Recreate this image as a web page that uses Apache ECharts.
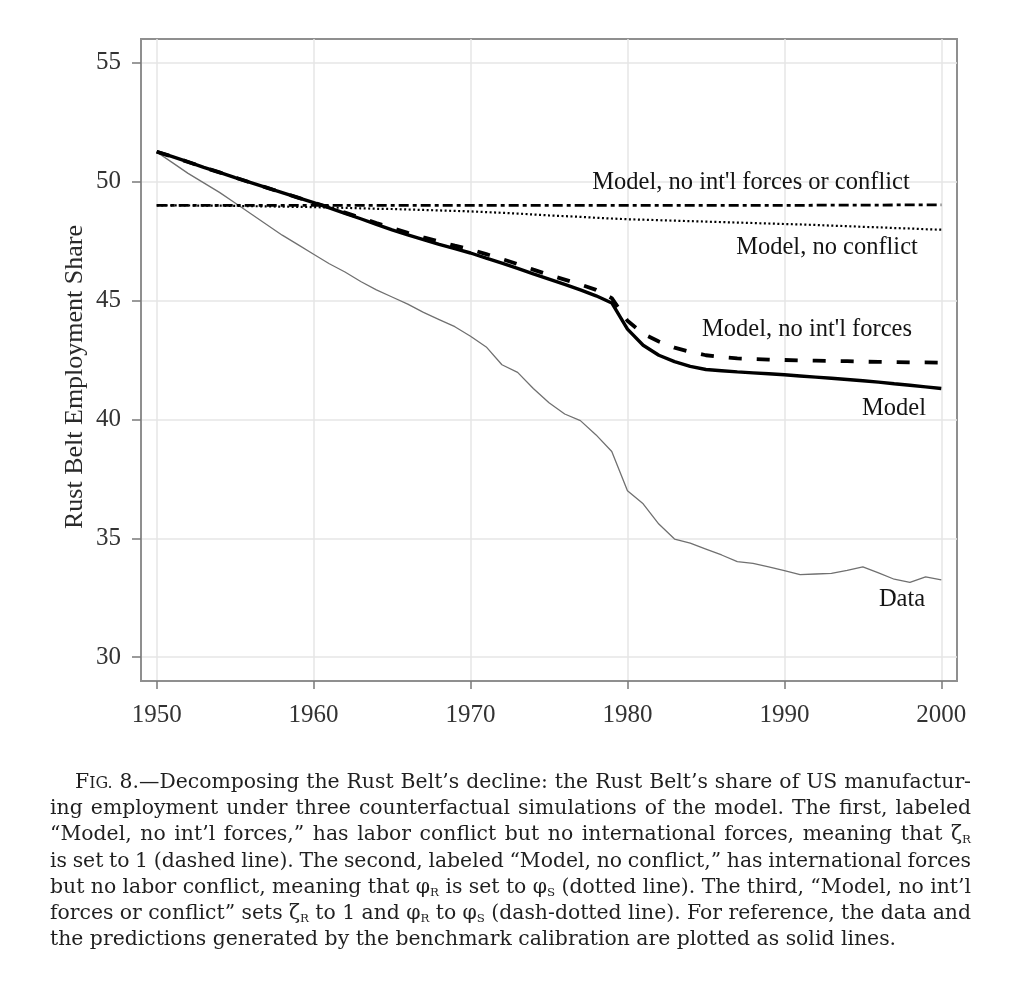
<!DOCTYPE html>
<html><head><meta charset="utf-8">
<script src="https://cdn.jsdelivr.net/npm/echarts@6/dist/echarts.min.js"></script>
<style>html,body{margin:0;padding:0;background:#fff}#c{width:1019px;height:981px}</style>
</head><body><div id="c"></div>
<script>
// ---------- DATA ----------
const years = [1950,1951,1952,1953,1954,1955,1956,1957,1958,1959,
  1960,1961,1962,1963,1964,1965,1966,1967,1968,1969,
  1970,1971,1972,1973,1974,1975,1976,1977,1978,1979,
  1980,1981,1982,1983,1984,1985,1986,1987,1988,1989,
  1990,1991,1992,1993,1994,1995,1996,1997,1998,1999,2000];

const dataShare = [51.25,50.8,50.35,49.95,49.55,49.1,48.65,48.2,47.75,47.35,
  46.95,46.55,46.2,45.8,45.45,45.15,44.85,44.5,44.2,43.9,
  43.5,43.05,42.3,41.98,41.3,40.7,40.23,39.95,39.35,38.65,
  37.0,36.45,35.6,34.97,34.8,34.55,34.3,34.02,33.95,33.8,
  33.64,33.47,33.5,33.53,33.65,33.8,33.55,33.28,33.15,33.38,33.25];

const modelShare = [51.26,51.05,50.83,50.6,50.39,50.17,49.96,49.75,49.54,49.33,
  49.12,48.9,48.67,48.44,48.2,47.97,47.76,47.56,47.36,47.18,
  47.0,46.78,46.57,46.35,46.12,45.9,45.68,45.45,45.2,44.9,
  43.8,43.12,42.7,42.43,42.23,42.1,42.05,42.0,41.96,41.92,
  41.88,41.83,41.78,41.73,41.68,41.63,41.57,41.5,41.44,41.37,41.3];

const noIntlShare = [51.26,51.05,50.83,50.6,50.39,50.17,49.96,49.75,49.54,49.33,
  49.12,48.92,48.7,48.48,48.26,48.05,47.85,47.66,47.48,47.31,
  47.15,46.95,46.75,46.53,46.3,46.08,45.88,45.68,45.45,45.1,
  44.15,43.6,43.28,43.02,42.84,42.7,42.62,42.57,42.54,42.52,
  42.5,42.48,42.47,42.46,42.45,42.43,42.42,42.41,42.4,42.4,42.39];

const noConflictShare = [49.0,49.0,49.0,48.99,48.99,48.98,48.97,48.96,48.95,48.94,
  48.93,48.91,48.9,48.88,48.86,48.85,48.83,48.81,48.79,48.77,
  48.75,48.72,48.69,48.66,48.62,48.58,48.55,48.52,48.48,48.45,
  48.42,48.4,48.38,48.36,48.34,48.32,48.3,48.28,48.26,48.24,
  48.22,48.2,48.18,48.15,48.13,48.1,48.08,48.05,48.03,48.0,47.98];

const noIntlNoConflictShare = [49.0,49.0,49.0,49.0,49.0,49.0,49.0,49.0,49.0,49.0,
  49.0,49.0,49.0,49.0,49.0,49.0,49.0,49.0,49.0,49.0,
  49.0,49.0,49.0,49.0,49.0,49.0,49.0,49.0,49.0,49.0,
  49.0,49.0,49.0,49.0,49.0,49.0,49.0,49.0,49.0,49.0,
  49.0,49.0,49.01,49.01,49.01,49.01,49.01,49.02,49.02,49.02,49.02];

const xTicks = [1950,1960,1970,1980,1990,2000];
const yTicks = [30,35,40,45,50,55];

const seriesNames = ["Data", "Model", "Model, no int'l forces", "Model, no conflict", "Model, no int'l forces or conflict"];
const yAxisTitle = "Rust Belt Employment Share";

// caption: "~" starts small caps for rest of word, "_X" is subscript X
const captionLines = [
  "F~IG. 8.\u2014Decomposing the Rust Belt\u2019s decline: the Rust Belt\u2019s share of US manufactur-",
  "ing employment under three counterfactual simulations of the model. The first, labeled",
  "\u201CModel, no int\u2019l forces,\u201D has labor conflict but no international forces, meaning that \u03B6_R",
  "is set to 1 (dashed line). The second, labeled \u201CModel, no conflict,\u201D has international forces",
  "but no labor conflict, meaning that \u03C6_R is set to \u03C6_S (dotted line). The third, \u201CModel, no int\u2019l",
  "forces or conflict\u201D sets \u03B6_R to 1 and \u03C6_R to \u03C6_S (dash-dotted line). For reference, the data and",
  "the predictions generated by the benchmark calibration are plotted as solid lines."
];

// ---------- BUILD ----------
const SERIF = '"Liberation Serif", "Times New Roman", serif';
const CAPSERIF = '"DejaVu Serif", "Liberation Serif", serif';
const pair = vals => years.map((y, i) => [y, vals[i]]);

const chart = echarts.init(document.getElementById('c'));

const ctx = document.createElement('canvas').getContext('2d');
function measure(t, fs) { ctx.font = fs + 'px ' + CAPSERIF; return ctx.measureText(t).width; }
function parseWord(w, fs) {
  const segs = []; let cur = ''; let small = false;
  for (let k = 0; k < w.length; k++) {
    const ch = w[k];
    if (ch === '~') { if (cur) segs.push({t: cur, size: fs, dy: 0}); cur = ''; small = true; continue; }
    if (ch === '_') {
      if (cur) segs.push({t: cur, size: small ? fs * 0.78 : fs, dy: 0}); cur = '';
      segs.push({t: w[k + 1], size: fs * 0.58, dy: fs * 0.11}); k++; continue;
    }
    cur += ch;
  }
  if (cur) segs.push({t: cur, size: small ? fs * 0.78 : fs, dy: 0});
  segs.forEach(s => s.w = measure(s.t, s.size));
  return segs;
}

const graphics = [];
// caption
const capLeft = 50, capRight = 971, capIndent = 75;
const lastPlain = captionLines[captionLines.length - 1];
let capFs = 20 * 847 / measure(lastPlain, 20);
capFs = Math.max(17, Math.min(23, capFs));
const baselines = [790, 816.2, 842.4, 868.6, 894.8, 921, 947.2];
captionLines.forEach((line, li) => {
  const words = line.split(' ').map(w => parseWord(w, capFs));
  const widths = words.map(ws => ws.reduce((a, s) => a + s.w, 0));
  const total = widths.reduce((a, b) => a + b, 0);
  const left = li === 0 ? capIndent : capLeft;
  const justify = li < captionLines.length - 1;
  const gap = justify ? (capRight - left - total) / (words.length - 1) : measure(' ', capFs);
  let x = left;
  words.forEach((ws, wi) => {
    let sx = x;
    ws.forEach(s => {
      graphics.push({
        type: 'text', x: sx, y: baselines[li] - 0.36 * s.size + s.dy, silent: true, z: 100,
        style: {text: s.t, fontSize: s.size, lineHeight: s.size, fontFamily: CAPSERIF, fill: '#1f1f1f',
                textAlign: 'left', align: 'left', textVerticalAlign: 'middle', verticalAlign: 'middle'}
      });
      sx += s.w;
    });
    x += widths[wi] + gap;
  });
});

// series annotations
const annot = [
  {name: seriesNames[4], x: 751, y: 183},
  {name: seriesNames[3], x: 827, y: 248},
  {name: seriesNames[2], x: 807, y: 330},
  {name: seriesNames[1], x: 894, y: 409},
  {name: seriesNames[0], x: 902, y: 600}
];
annot.forEach(a => graphics.push({
  type: 'text', x: a.x, y: a.y, silent: true, z: 100,
  style: {text: a.name, fontSize: 24.5, lineHeight: 26, fontFamily: SERIF, fill: '#141414',
          textAlign: 'center', align: 'center', textVerticalAlign: 'middle', verticalAlign: 'middle'}
}));
// y axis title
graphics.push({
  type: 'text', x: 75, y: 377, rotation: Math.PI / 2, silent: true, z: 100,
  style: {text: yAxisTitle, fontSize: 26, fontFamily: SERIF, fill: '#2a2a2a',
          textAlign: 'center', align: 'center', textVerticalAlign: 'middle', verticalAlign: 'middle'}
});

const lineBase = {type: 'line', showSymbol: false, symbol: 'none', smooth: false, animation: false, silent: true};

chart.setOption({
  animation: false,
  backgroundColor: '#fff',
  grid: {left: 141, right: 62, top: 39, bottom: 300, show: true, borderColor: '#8f8f8f', borderWidth: 2, backgroundColor: 'transparent'},
  xAxis: {
    type: 'value', min: 1949, max: 2001,
    axisLine: {show: true, onZero: false, lineStyle: {color: '#8f8f8f', width: 2}},
    axisTick: {show: true, customValues: xTicks, length: 8, inside: false, lineStyle: {color: '#7a7a7a', width: 1.5}},
    axisLabel: {show: true, customValues: xTicks, formatter: v => String(v), fontSize: 25, fontFamily: SERIF, color: '#333', margin: 22},
    splitLine: {show: true, lineStyle: {color: '#e6e6e6', width: 1.5}}
  },
  yAxis: {
    type: 'value', min: 29, max: 56,
    axisLine: {show: true, onZero: false, lineStyle: {color: '#8f8f8f', width: 2}},
    axisTick: {show: true, customValues: yTicks, length: 9, inside: false, lineStyle: {color: '#7a7a7a', width: 1.5}},
    axisLabel: {show: true, customValues: yTicks, formatter: v => String(v), fontSize: 25, fontFamily: SERIF, color: '#333', margin: 20},
    splitLine: {show: true, lineStyle: {color: '#e6e6e6', width: 1.5}}
  },
  series: [
    Object.assign({}, lineBase, {name: seriesNames[0], data: pair(dataShare), lineStyle: {color: '#707070', width: 1.3}}),
    Object.assign({}, lineBase, {name: seriesNames[3], data: pair(noConflictShare), lineStyle: {color: '#000', width: 2.2, type: [2, 2.5]}}),
    Object.assign({}, lineBase, {name: seriesNames[4], data: pair(noIntlNoConflictShare), lineStyle: {color: '#000', width: 2.8, type: [10, 4, 4, 4]}}),
    Object.assign({}, lineBase, {name: seriesNames[2], data: pair(noIntlShare), lineStyle: {color: '#000', width: 3.8, type: [13, 15]}}),
    Object.assign({}, lineBase, {name: seriesNames[1], data: pair(modelShare), lineStyle: {color: '#000', width: 3.4}})
  ],
  graphic: graphics
});
</script>
</body></html>
